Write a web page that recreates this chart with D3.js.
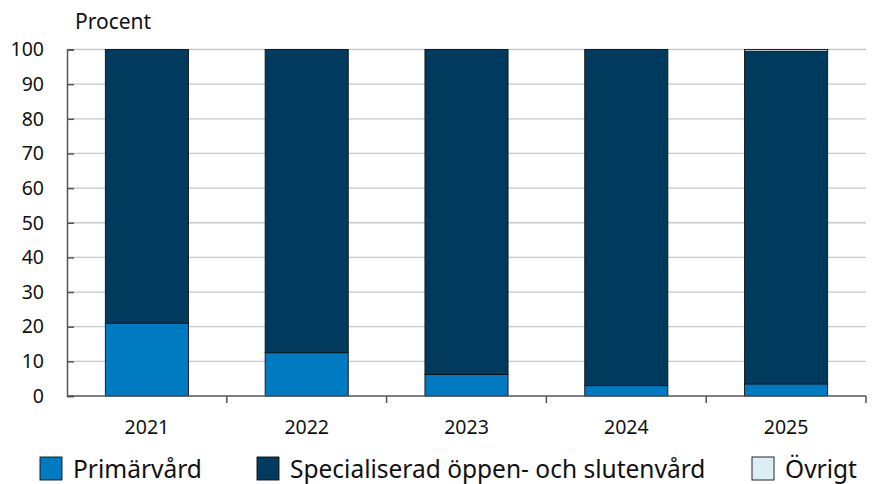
<!DOCTYPE html>
<html><head><meta charset="utf-8">
<script src="https://cdn.jsdelivr.net/npm/d3@7"></script>
<style>html,body{margin:0;padding:0;overflow:hidden;background:#fff;font-family:"Noto Sans","Open Sans",sans-serif;} svg{display:block;}</style>
</head><body><svg id="c" width="874" height="484"></svg>
<script>
const years = ["2021","2022","2023","2024","2025"];
const primarvard = [21.0, 12.5, 6.2, 3.0, 3.5];
const specialiserad = [79.0, 87.5, 93.8, 97.0, 96.0];
const ovrigt = [0, 0, 0, 0, 0.5];
const seriesNames = ["Primärvård","Specialiserad öppen- och slutenvård","Övrigt"];
const colors = ["#007BC1","#003A5D","#DCEDF5"];
const yTicks = [0,10,20,30,40,50,60,70,80,90,100];

const svg = d3.select("#c");
const m = {l:67, r:866, t:49.5, b:396};
const x = d3.scaleBand().domain(years).range([m.l, m.r]).paddingInner(0.48).paddingOuter(0.24);
const xb = d3.scaleBand().domain(years).range([m.l, m.r]);
const y = d3.scaleLinear().domain([0,100]).range([m.b, m.t]);

// grid
svg.append("g").selectAll("line").data(yTicks.filter(d=>d>0)).join("line")
  .attr("x1", m.l).attr("x2", m.r).attr("y1", d=>y(d)).attr("y2", d=>y(d))
  .attr("stroke","#c8c8c8").attr("stroke-width",1.3);

const rows = years.map((yr,i)=>({year:yr, p:primarvard[i], s:specialiserad[i], o:ovrigt[i]}));
const stack = d3.stack().keys(["p","s","o"])(rows);
svg.append("g").selectAll("g").data(stack).join("g")
  .attr("fill",(d,i)=>colors[i])
  .selectAll("rect").data(d=>d.filter(e=>e[1]-e[0]>0)).join("rect")
  .attr("x", d=>x(d.data.year)).attr("width", x.bandwidth())
  .attr("y", d=>y(d[1])).attr("height", d=>y(d[0])-y(d[1]))
  .attr("stroke","#111").attr("stroke-width",0.9);

// y axis
const ya = svg.append("g").attr("transform",`translate(${m.l},0)`)
  .call(d3.axisLeft(y).tickValues(yTicks).tickSize(-7).tickPadding(0).tickFormat(d3.format("d")));
ya.select(".domain").attr("stroke","#555").attr("stroke-width",1.5);
ya.selectAll(".tick line").attr("stroke","#555").attr("stroke-width",1.5);
ya.selectAll(".tick text").attr("x",-23).attr("font-size",19.5).attr("fill","#111")
  .attr("font-family","'Noto Sans','Open Sans',sans-serif");

// x axis
const xg = svg.append("g").attr("transform",`translate(0,${m.b})`);
xg.append("line").attr("x1",m.l).attr("x2",m.r).attr("stroke","#555").attr("stroke-width",1.5);
const bounds = years.map(d=>xb(d)+xb.bandwidth());
xg.selectAll(".bt").data(bounds).join("line").attr("class","bt")
  .attr("x1",d=>d).attr("x2",d=>d).attr("y1",0).attr("y2",7).attr("stroke","#555").attr("stroke-width",1.5);
xg.selectAll("text").data(years).join("text")
  .attr("x",d=>xb(d)+xb.bandwidth()/2).attr("y",38).attr("text-anchor","middle")
  .attr("font-size",19.5).attr("fill","#111").text(d=>d);

svg.append("text").attr("x",75).attr("y",29).attr("font-size",21).attr("fill","#111").text("Procent");

// legend
const legX = [40, 257, 752];
const lg = svg.append("g").selectAll("g").data(seriesNames).join("g")
  .attr("transform",(d,i)=>`translate(${legX[i]},457)`);
lg.append("rect").attr("width",22).attr("height",23).attr("fill",(d,i)=>colors[i])
  .attr("stroke","#111").attr("stroke-width",0.9);
lg.append("text").attr("x",33).attr("y",20.5).attr("font-size",24.5).attr("fill","#111").text(d=>d);
</script></body></html>
